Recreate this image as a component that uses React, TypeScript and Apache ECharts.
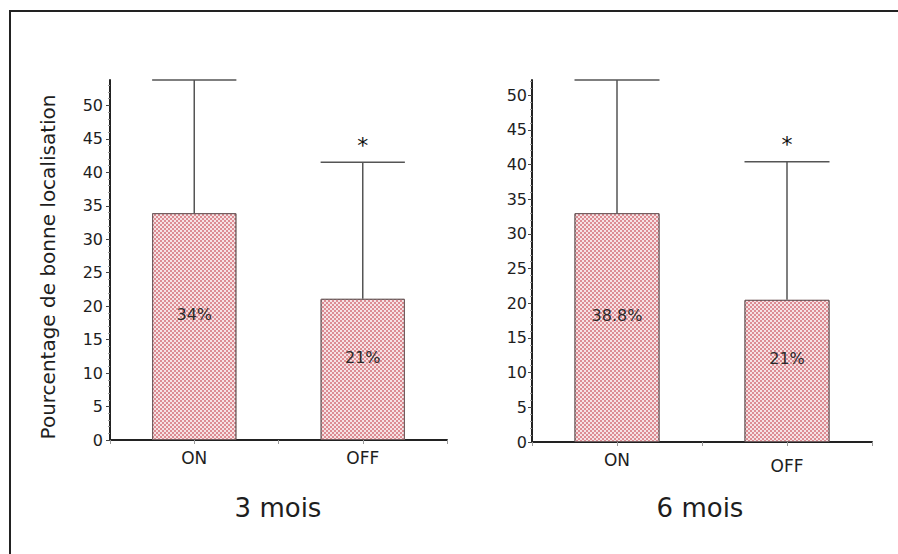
import React, { useEffect, useRef } from "react";
import * as echarts from "echarts";

const categories = ["ON", "OFF"];
const yTickValues = [0, 5, 10, 15, 20, 25, 30, 35, 40, 45, 50];
const leftBarValues = [33.9, 21.1];
const leftErrorTops = [53.8, 41.5];
const leftBarLabels = ["34%", "21%"];
const rightBarValues = [33.0, 20.5];
const rightErrorTops = [52.2, 40.4];
const rightBarLabels = ["38.8%", "21%"];
const significant = [false, true];
const panelTitles = ["3 mois", "6 mois"];
const yAxisTitle = "Pourcentage de bonne localisation";
const leftAxisMax = 53.8;
const rightAxisMax = 52.2;

const FONT = "DejaVu Sans";
const TEXT = "#1e1e1e";

function makeYAxis(gridIndex: number, max: number, margin: number) {
  return {
    type: "value",
    gridIndex,
    min: 0,
    max,
    interval: 5,
    axisLine: { show: true, lineStyle: { color: "#222", width: 2 } },
    axisTick: {
      show: true,
      length: 4,
      customValues: yTickValues,
      lineStyle: { color: "#444", width: 1 },
    },
    minorTick: { show: true, splitNumber: 5, length: 2, lineStyle: { color: "#999" } },
    axisLabel: {
      customValues: yTickValues,
      fontSize: 16,
      color: TEXT,
      fontFamily: FONT,
      margin,
    },
    splitLine: { show: false },
    minorSplitLine: { show: false },
  };
}

function makeXAxes(gridIndex: number, offLabelPad: number) {
  return [
    {
      type: "category",
      gridIndex,
      data: categories.map((c, i) =>
        i === 1 ? { value: c, textStyle: { padding: [offLabelPad, 0, 0, 0] } } : c
      ),
      axisLine: { show: true, lineStyle: { color: "#222", width: 2 } },
      axisTick: { show: true, alignWithLabel: true, length: 4, lineStyle: { color: "#999" } },
      axisLabel: { fontSize: 17, color: TEXT, fontFamily: FONT, margin: 9 },
    },
    {
      type: "category",
      gridIndex,
      position: "bottom",
      data: categories,
      axisLine: { show: false },
      axisTick: { show: true, alignWithLabel: false, interval: 0, length: 4, lineStyle: { color: "#999" } },
      axisLabel: { show: false },
    },
  ];
}

const decal = {
  color: "rgba(255,255,255,0.75)",
  symbol: "rect",
  symbolSize: 1,
  dashArrayX: [
    [2, 2],
    [0, 2, 2, 0],
  ],
  dashArrayY: [2, 0],
};

function makeBar(axisIndex: number, values: number[], labels: string[]) {
  return {
    type: "bar",
    xAxisIndex: axisIndex,
    yAxisIndex: axisIndex / 2,
    data: values,
    barWidth: "50%",
    itemStyle: { color: "#dc8c93", borderColor: "#6f5a5c", borderWidth: 1, decal },
    label: {
      show: true,
      position: "inside",
      offset: [0, -12],
      formatter: (p: any) => labels[p.dataIndex],
      fontSize: 16,
      color: "#2a2a2a",
      fontFamily: FONT,
    },
    z: 2,
  };
}

function makeErrors(axisIndex: number, values: number[], tops: number[]) {
  return {
    type: "custom",
    xAxisIndex: axisIndex,
    yAxisIndex: axisIndex / 2,
    data: values.map((v, i) => [i, v, tops[i], significant[i] ? 1 : 0]),
    renderItem: (params: any, api: any) => {
      const x = api.value(0);
      const base = api.coord([x, api.value(1)]);
      const top = api.coord([x, api.value(2)]);
      const half = api.size([1, 0])[0] * 0.25;
      const style = { stroke: "#555", lineWidth: 1.5 };
      const children: any[] = [
        { type: "line", shape: { x1: top[0], y1: base[1], x2: top[0], y2: top[1] }, style },
        { type: "line", shape: { x1: top[0] - half, y1: top[1], x2: top[0] + half, y2: top[1] }, style },
      ];
      if (api.value(3) === 1) {
        children.push({
          type: "text",
          x: top[0],
          y: top[1] - 17,
          style: {
            text: "*",
            fontSize: 22,
            fontFamily: FONT,
            fill: "#111",
            align: "center",
            verticalAlign: "middle",
          },
        });
      }
      return { type: "group", children };
    },
    z: 5,
  };
}

export default function App() {
  const ref = useRef<HTMLDivElement>(null);
  useEffect(() => {
    if (!ref.current) return;
    const chart = echarts.init(ref.current, undefined, { renderer: "svg" });
    chart.setOption({
      animation: false,
      backgroundColor: "#fff",
      grid: [
        { left: 110, top: 80, width: 337, height: 360 },
        { left: 532, top: 80, width: 340, height: 362 },
      ],
      xAxis: [...makeXAxes(0, 0), ...makeXAxes(1, 6)],
      yAxis: [makeYAxis(0, leftAxisMax, 7), makeYAxis(1, rightAxisMax, 5)],
      series: [
        makeBar(0, leftBarValues, leftBarLabels),
        makeErrors(0, leftBarValues, leftErrorTops),
        makeBar(2, rightBarValues, rightBarLabels),
        makeErrors(2, rightBarValues, rightErrorTops),
      ],
      graphic: [
        { type: "rect", shape: { x: 9, y: 10, width: 900, height: 2 }, style: { fill: "#222" } },
        { type: "rect", shape: { x: 9, y: 10, width: 2, height: 560 }, style: { fill: "#222" } },
        {
          type: "text",
          x: 48,
          y: 267,
          rotation: Math.PI / 2,
          style: {
            text: yAxisTitle,
            fontSize: 20,
            fontFamily: FONT,
            fill: TEXT,
            align: "center",
            verticalAlign: "middle",
          },
        },
        {
          type: "text",
          x: 278,
          y: 508,
          style: { text: panelTitles[0], fontSize: 26, fontFamily: FONT, fill: TEXT, align: "center", verticalAlign: "middle" },
        },
        {
          type: "text",
          x: 700,
          y: 508,
          style: { text: panelTitles[1], fontSize: 26, fontFamily: FONT, fill: TEXT, align: "center", verticalAlign: "middle" },
        },
      ],
    });
    return () => chart.dispose();
  }, []);
  return (
    <div
      ref={ref}
      style={{ position: "fixed", left: 0, top: 0, width: 898, height: 554 }}
    />
  );
}
